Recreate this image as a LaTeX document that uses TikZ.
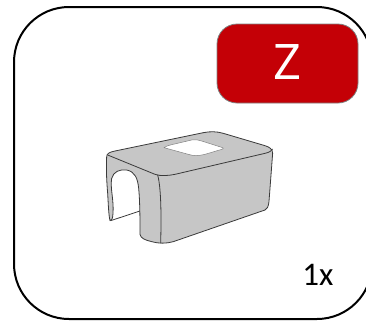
\documentclass[tikz,border=0pt]{standalone}
\usepackage{fontspec}
\setmainfont{Carlito}
\newfontfamily\zfont{Open Sans}
\definecolor{boxred}{HTML}{C40006}
\definecolor{bodygray}{HTML}{C6C6C6}
\definecolor{edgegray}{HTML}{3A3A3A}
\tikzset{
  frameline/.style={draw=black,line width=2pt},
  redbadge/.style={draw=gray,line width=0.8pt,fill=boxred,rounded corners=20pt},
  bodyshape/.style={draw=edgegray,line width=0.8pt,fill=bodygray,line join=round},
  creaseline/.style={draw=edgegray,line width=0.8pt},
  windowshape/.style={draw=gray,line width=0.5pt,fill=white,line join=round}
}
\begin{document}
\begin{tikzpicture}[x=1pt,y=-1pt]
\useasboundingbox (0,0) rectangle (366,327);
\begin{scope}
\clip (0,0) rectangle (366,327);
\draw[frameline,rounded corners=55pt] (14,7) rectangle (372,319);
\end{scope}
\draw[redbadge] (217,24) rectangle (358,103);
\node[text=white,font=\zfont\fontsize{49}{49}\selectfont,inner sep=0pt] (z) at (287.5,62.5) {Z};
\node[text=black,font=\fontsize{33}{33}\selectfont,inner sep=0pt] (count) at (318,275) {1x};
\begin{scope}[shift={(90,125)},x=0.3333pt,y=-0.3333pt]
\draw[bodyshape]
  (50,95) .. controls (48,130) and (50,170) .. (53,205)
  .. controls (55,240) and (56,270) .. (60,287)
  .. controls (66,287) and (68,280) .. (69,265)
  .. controls (72,225) and (60,190) .. (65,160)
  .. controls (70,140) and (90,132) .. (110,135)
  .. controls (135,140) and (143,160) .. (146,190)
  .. controls (150,230) and (150,290) .. (150,328)
  .. controls (152,340) and (165,345) .. (185,350)
  .. controls (205,356) and (230,356) .. (250,350)
  -- (525,255)
  .. controls (532,252) and (535,245) .. (537,230)
  -- (548,85)
  .. controls (548,72) and (538,66) .. (525,62)
  -- (400,25)
  .. controls (380,19) and (360,19) .. (340,23)
  -- (75,78)
  .. controls (60,81) and (50,85) .. (50,95) -- cycle;
\draw[creaseline] (62,287) -- (150,258);
\draw[creaseline] (53,90) -- (195,148)
  .. controls (212,154) and (235,152) .. (255,148)
  -- (525,85)
  .. controls (538,82) and (545,78) .. (548,72);
\draw[creaseline] (203,150) .. controls (214,190) and (214,280) .. (212,355);
\draw[windowshape] (222,68) .. controls (225,64) and (235,62) .. (245,59)
  -- (305,45) .. controls (315,43) and (325,44) .. (335,48)
  -- (395,67) .. controls (403,70) and (400,72) .. (392,74)
  -- (345,88) .. controls (325,93) and (310,93) .. (295,88)
  -- cycle;
\end{scope}
\end{tikzpicture}
\end{document}
